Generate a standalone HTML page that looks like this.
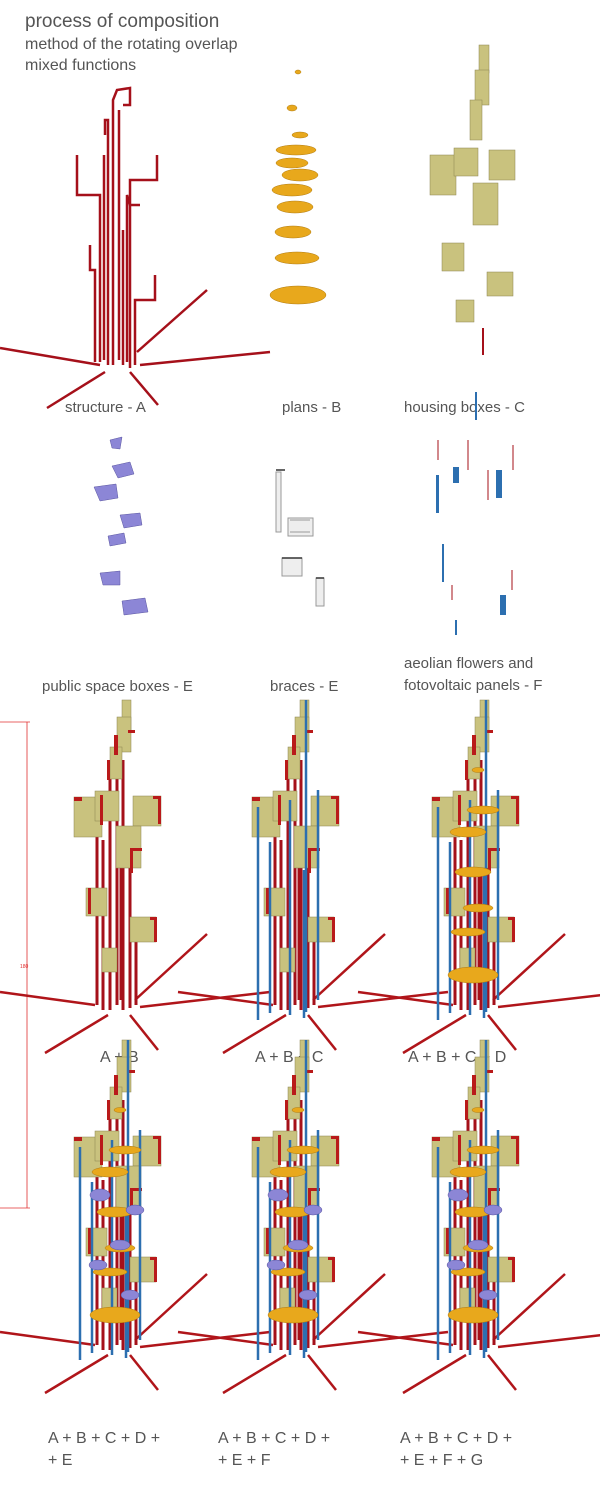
<!DOCTYPE html>
<html><head><meta charset="utf-8"><style>
body{margin:0;background:#fff;width:600px;height:1491px;overflow:hidden}
svg{display:block}
text{font-family:"Liberation Sans",sans-serif;fill:#555}
</style></head><body>
<svg width="600" height="1491" viewBox="0 0 600 1491" xmlns="http://www.w3.org/2000/svg">
<defs>
 <g id="legs" stroke="#b0151a" stroke-width="2.5" fill="none">
  <line x1="0" y1="992" x2="95" y2="1005"/>
  <line x1="45" y1="1053" x2="108" y2="1015"/>
  <line x1="130" y1="1015" x2="158" y2="1050"/>
  <line x1="135" y1="1000" x2="207" y2="934"/>
  <line x1="140" y1="1007" x2="270" y2="992"/>
 </g>
 <g id="struct" stroke="#a5101a" stroke-width="3" fill="none">
  <line x1="97" y1="800" x2="97" y2="1005"/>
  <line x1="103" y1="840" x2="103" y2="1010"/>
  <line x1="110" y1="760" x2="110" y2="1010"/>
  <line x1="117" y1="750" x2="117" y2="1005"/>
  <line x1="123" y1="760" x2="123" y2="1010"/>
  <line x1="130" y1="850" x2="130" y2="1008"/>
  <line x1="136" y1="940" x2="136" y2="1005"/>
  <line x1="121" y1="830" x2="121" y2="1000"/>
 </g>
 <g id="boxes">
  <g fill="#c9c27e" stroke="#8a8450" stroke-width="0.5">
   <rect x="122" y="700" width="9" height="30"/>
   <rect x="117" y="717" width="14" height="35"/>
   <rect x="110" y="747" width="12" height="32"/>
   <rect x="74" y="797" width="28" height="40"/>
   <rect x="95" y="791" width="24" height="30"/>
   <rect x="133" y="796" width="28" height="30"/>
   <rect x="116" y="826" width="25" height="42"/>
   <rect x="86" y="888" width="21" height="28"/>
   <rect x="130" y="917" width="26" height="25"/>
   <rect x="102" y="948" width="15" height="24"/>
  </g>
  <g fill="#b91a1a">
   <rect x="114" y="735" width="4" height="20"/><rect x="128" y="730" width="7" height="3"/>
   <rect x="107" y="760" width="3" height="20"/>
   <rect x="74" y="797" width="8" height="4"/><rect x="100" y="795" width="3" height="30"/>
   <rect x="153" y="796" width="8" height="3"/><rect x="158" y="796" width="3" height="28"/>
   <rect x="130" y="848" width="12" height="3"/><rect x="130" y="848" width="3" height="25"/>
   <rect x="88" y="888" width="3" height="26"/>
   <rect x="150" y="917" width="6" height="3"/><rect x="154" y="917" width="3" height="25"/>
  </g>
 </g>
 <g id="T"><use href="#legs"/><use href="#struct"/><use href="#boxes"/></g>
 <g id="blue" stroke="#2c6fb0" stroke-width="2.5">
  <line x1="128" y1="700" x2="128" y2="1012"/>
  <line x1="80" y1="807" x2="80" y2="1020"/>
  <line x1="92" y1="842" x2="92" y2="1013"/>
  <line x1="112" y1="800" x2="112" y2="1015"/>
  <line x1="126" y1="870" x2="126" y2="1018"/>
  <line x1="140" y1="790" x2="140" y2="1000"/>
 </g>
 <g id="orange" fill="#e8a81c" stroke="#b07a10" stroke-width="0.5">
  <ellipse cx="120" cy="770" rx="6" ry="2.5"/>
  <ellipse cx="125" cy="810" rx="16" ry="4"/>
  <ellipse cx="110" cy="832" rx="18" ry="5"/>
  <ellipse cx="115" cy="872" rx="18" ry="5"/>
  <ellipse cx="120" cy="908" rx="15" ry="4"/>
  <ellipse cx="110" cy="932" rx="17" ry="4"/>
  <ellipse cx="115" cy="975" rx="25" ry="8"/>
 </g>
 <g id="purple" fill="#8c86d6" stroke="#5a55a0" stroke-width="0.5">
  <ellipse cx="100" cy="855" rx="10" ry="6"/>
  <ellipse cx="135" cy="870" rx="9" ry="5"/>
  <ellipse cx="120" cy="905" rx="10" ry="5"/>
  <ellipse cx="98" cy="925" rx="9" ry="5"/>
  <ellipse cx="130" cy="955" rx="9" ry="5"/>
 </g>
 <g id="T3"><use href="#T"/><use href="#blue"/><use href="#orange"/></g>
 <g id="T4"><use href="#T3"/><use href="#purple"/></g>
</defs>

<text x="25" y="27" font-size="19">process of composition</text>
<text x="25" y="49" font-size="16">method of the rotating overlap</text>
<text x="25" y="70" font-size="16">mixed functions</text>

<g stroke="#a5101a" stroke-width="2.5" fill="none">
 <line x1="0" y1="348" x2="100" y2="365"/>
 <line x1="47" y1="408" x2="105" y2="372"/>
 <line x1="130" y1="372" x2="158" y2="405"/>
 <line x1="137" y1="352" x2="207" y2="290"/>
 <line x1="140" y1="365" x2="270" y2="352"/>
 <polyline points="113,365 113,100 117,90 130,88 130,105 123,105"/>
 <polyline points="119,360 119,110"/>
 <polyline points="108,365 108,120 105,120 105,135"/>
 <polyline points="100,362 100,195 77,195 77,155"/>
 <polyline points="130,368 130,180 157,180 157,155"/>
 <polyline points="104,360 104,155 104,175"/>
 <polyline points="95,362 95,270 90,270 90,245"/>
 <polyline points="135,365 135,300 155,300 155,275"/>
 <polyline points="127,362 127,195 130,205 140,205"/>
 <polyline points="123,365 123,230"/>
</g>
<text x="65" y="412" font-size="15">structure - A</text>

<g fill="#e8a81c" stroke="#b07a10" stroke-width="0.5">
 <ellipse cx="298" cy="72" rx="3" ry="2"/>
 <ellipse cx="292" cy="108" rx="5" ry="3"/>
 <ellipse cx="300" cy="135" rx="8" ry="3"/>
 <ellipse cx="296" cy="150" rx="20" ry="5"/>
 <ellipse cx="292" cy="163" rx="16" ry="5"/>
 <ellipse cx="300" cy="175" rx="18" ry="6"/>
 <ellipse cx="292" cy="190" rx="20" ry="6"/>
 <ellipse cx="295" cy="207" rx="18" ry="6"/>
 <ellipse cx="293" cy="232" rx="18" ry="6"/>
 <ellipse cx="297" cy="258" rx="22" ry="6"/>
 <ellipse cx="298" cy="295" rx="28" ry="9"/>
</g>
<text x="282" y="412" font-size="15">plans - B</text>

<g fill="#c9c27e" stroke="#8a8450" stroke-width="0.5">
 <rect x="479" y="45" width="10" height="28"/>
 <rect x="475" y="70" width="14" height="35"/>
 <rect x="470" y="100" width="12" height="40"/>
 <rect x="430" y="155" width="26" height="40"/>
 <rect x="454" y="148" width="24" height="28"/>
 <rect x="489" y="150" width="26" height="30"/>
 <rect x="473" y="183" width="25" height="42"/>
 <rect x="442" y="243" width="22" height="28"/>
 <rect x="487" y="272" width="26" height="24"/>
 <rect x="456" y="300" width="18" height="22"/>
</g>
<line x1="483" y1="328" x2="483" y2="355" stroke="#a5101a" stroke-width="2"/>
<text x="404" y="412" font-size="15">housing boxes - C</text>
<line x1="476" y1="392" x2="476" y2="420" stroke="#2c6fb0" stroke-width="2"/>

<g fill="#8c86d6" stroke="#5a55a0" stroke-width="0.5">
 <path d="M110,440 L122,437 L120,449 L112,448Z"/>
 <path d="M112,466 L130,462 L134,474 L118,478Z"/>
 <path d="M94,487 L116,484 L118,498 L100,501Z"/>
 <path d="M120,515 L140,513 L142,525 L124,528Z"/>
 <path d="M108,536 L124,533 L126,543 L110,546Z"/>
 <path d="M100,573 L120,571 L120,585 L103,585Z"/>
 <path d="M122,601 L145,598 L148,612 L124,615Z"/>
</g>
<g stroke="#999" stroke-width="1" fill="#eee">
 <rect x="276" y="472" width="5" height="60"/>
 <path d="M288,518 h25 v18 h-25z"/>
 <path d="M290,520 h20 M290,532 h20" />
 <rect x="282" y="558" width="20" height="18"/>
 <rect x="316" y="578" width="8" height="28"/>
</g>
<g stroke="#333" stroke-width="1.5"><line x1="276" y1="470" x2="285" y2="470"/><line x1="282" y1="558" x2="302" y2="558"/><line x1="316" y1="578" x2="324" y2="578"/></g>
<g fill="#2c6fb0">
 <rect x="436" y="475" width="3" height="38"/><rect x="453" y="467" width="6" height="16"/>
 <rect x="496" y="470" width="6" height="28"/><rect x="442" y="544" width="2" height="38"/>
 <rect x="500" y="595" width="6" height="20"/><rect x="455" y="620" width="2" height="15"/>
</g>
<g stroke="#a5101a" stroke-width="1">
 <line x1="438" y1="440" x2="438" y2="460"/><line x1="468" y1="440" x2="468" y2="470"/>
 <line x1="513" y1="445" x2="513" y2="470"/><line x1="488" y1="470" x2="488" y2="500"/>
 <line x1="452" y1="585" x2="452" y2="600"/><line x1="512" y1="570" x2="512" y2="590"/>
</g>

<text x="42" y="691" font-size="15">public space boxes - E</text>
<text x="270" y="691" font-size="15">braces - E</text>
<text x="404" y="668" font-size="15">aeolian flowers and</text>
<text x="404" y="690" font-size="15">fotovoltaic panels - F</text>

<g stroke="#e03030" stroke-width="0.8">
 <line x1="27" y1="722" x2="27" y2="1208"/>
 <line x1="0" y1="722" x2="30" y2="722"/><line x1="0" y1="1208" x2="30" y2="1208"/>
</g>
<text x="20" y="968" font-size="5" style="fill:#e03030">180</text>

<use href="#T"/>
<g transform="translate(178,0)"><use href="#T"/><use href="#blue"/></g>
<g transform="translate(358,0)"><use href="#T3"/></g>
<text x="100" y="1062" font-size="16">A + B</text>
<text x="255" y="1062" font-size="16">A + B + C</text>
<text x="408" y="1062" font-size="16">A + B + C + D</text>

<g transform="translate(0,340)"><use href="#T4"/></g>
<g transform="translate(178,340)"><use href="#T4"/></g>
<g transform="translate(358,340)"><use href="#T4"/></g>
<text x="48" y="1443" font-size="16">A + B + C + D +</text>
<text x="48" y="1465" font-size="16">+ E</text>
<text x="218" y="1443" font-size="16">A + B + C + D +</text>
<text x="218" y="1465" font-size="16">+ E + F</text>
<text x="400" y="1443" font-size="16">A + B + C + D +</text>
<text x="400" y="1465" font-size="16">+ E + F + G</text>
</svg>
</body></html>
